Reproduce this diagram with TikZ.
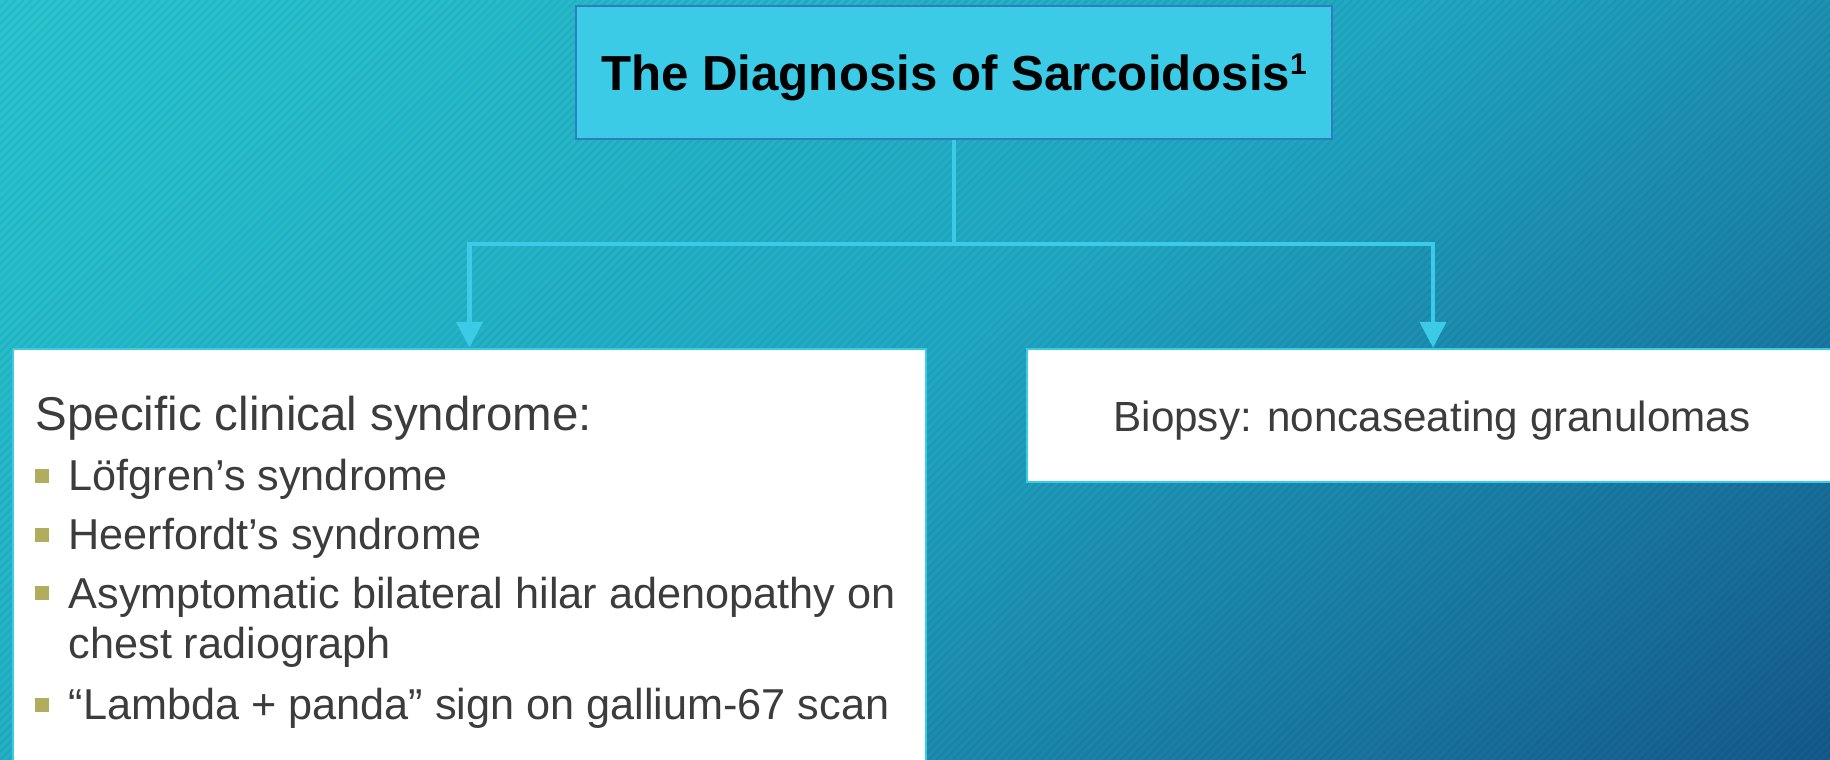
\documentclass[tikz,border=0pt]{standalone}
\usepackage{fontspec}
\setmainfont{Liberation Sans}
\usepackage{xcolor}
\usetikzlibrary{arrows.meta,positioning,calc}

\definecolor{bgtop}{HTML}{29C6CF}
\definecolor{bgmid}{HTML}{20A8C4}
\definecolor{bgbot}{HTML}{155A8C}
\definecolor{cyanbox}{HTML}{3BCBE6}
\definecolor{titleline}{HTML}{2F7DBF}
\definecolor{txtgray}{HTML}{3C3C3C}
\definecolor{bulletolive}{HTML}{B1AD5E}
\pgfdeclareverticalshading{bgshade}{100bp}{color(0bp)=(bgbot); color(26.7bp)=(bgbot);
  color(50bp)=(bgmid); color(73.3bp)=(bgtop); color(100bp)=(bgtop)}

\begin{document}
\begin{tikzpicture}[>={Triangle[length=2.6mm,width=2.6mm]},
  titlebox/.style={draw=titleline,line width=0.6pt,fill=cyanbox,minimum width=7.56cm,minimum height=1.33cm,inner sep=0pt},
  whitebox/.style={draw=cyanbox,line width=0.7pt,fill=white,inner sep=0pt},
  link/.style={cyanbox,line width=1.25pt},
  bul/.style={fill=bulletolive,minimum size=1.4mm,inner sep=0pt},
  item/.style={anchor=base west,text=txtgray,inner sep=0pt,font=\fontsize{12.3}{14.5}\selectfont},
  stripe/.style={black,opacity=0.05,line width=0.25mm}]
  \useasboundingbox (0,0) rectangle (18.3,7.6);
  \clip (0,0) rectangle (18.3,7.6);
  % background: diagonal gradient with fine stripes
  \shade[shading=bgshade,shading angle=36.9] (0,-5.35) rectangle (18.3,12.95);
  \foreach \s in {0,...,323}
    \draw[stripe] ({-7.6+0.08*\s},0) -- ++(7.6,7.6);

  \node[titlebox,text height=10.5pt,text depth=0pt] (title) at (9.54,6.875)
    {\fontsize{14}{16}\selectfont\bfseries The Diagnosis of Sarcoidosis\raisebox{4.6pt}{\fontsize{8.5}{9}\selectfont 1}};
  \node[whitebox,minimum width=9.13cm,minimum height=4.41cm] (lbox) at (4.695,1.905) {};
  \node[whitebox,minimum width=8.12cm,minimum height=1.33cm] (rbox) at (14.33,3.445) {};

  \coordinate (split) at (9.54,5.16);
  \draw[link] (title.south) -- (split);
  \draw[link,->] (split) -| (lbox.north);
  \draw[link,->] (split) -| (rbox.north);

  % left box text
  \node[item,font=\fontsize{13.5}{16}\selectfont] (head) at (0.35,3.29) {Specific clinical syndrome:};
  \node[item] (i1) at (0.68,2.69) {Löfgren’s syndrome};
  \node[item] (i2) at (0.68,2.10) {Heerfordt’s syndrome};
  \node[item,align=left] (i3) at (0.68,1.01) {Asymptomatic bilateral hilar adenopathy on\\chest radiograph};
  \node[item] (i4) at (0.68,0.40) {“Lambda + panda” sign on gallium-67 scan};
  \node[bul] at ($(i1.base west)+(-0.255,0.15)$) {};
  \node[bul] at ($(i2.base west)+(-0.255,0.15)$) {};
  \node[bul] at ($(i3.base west)+(-0.255,0.66)$) {};
  \node[bul] at ($(i4.base west)+(-0.255,0.15)$) {};

  % right box text
  \node[anchor=base,text=txtgray,font=\fontsize{12}{14}\selectfont] (biopsy) at (14.32,3.28)
    {Biopsy: noncaseating granulomas};
\end{tikzpicture}
\end{document}
